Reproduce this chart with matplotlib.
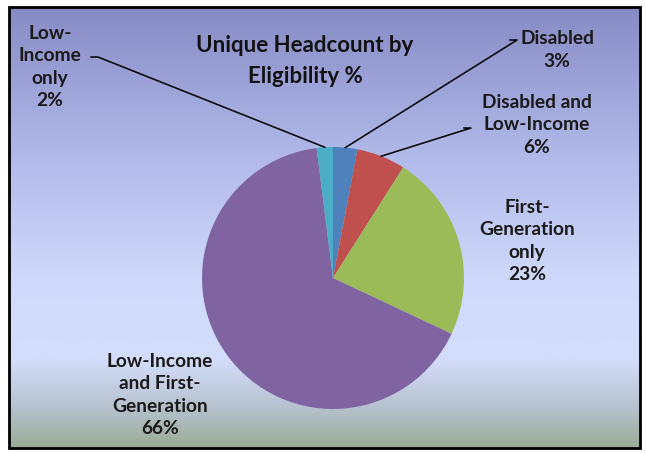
import numpy as np
import matplotlib
matplotlib.use("Agg")
import matplotlib.pyplot as plt
from matplotlib.colors import LinearSegmentedColormap
from matplotlib.patches import Rectangle

# data (percent of unique headcount)
categories = ["Disabled", "Disabled and\nLow-Income", "First-\nGeneration\nonly",
              "Low-Income\nand First-\nGeneration", "Low-\nIncome\nonly"]
shares = [3, 6, 23, 66, 2]
colors = ["#4F81BD", "#C0504D", "#9BBB59", "#8064A2", "#4BACC6"]

W, H = 646, 454
plt.rcParams["font.family"] = ["Lato", "DejaVu Sans"]

fig = plt.figure(figsize=(W / 100, H / 100), dpi=100)
ax = fig.add_axes([0, 0, 1, 1])

def yy(y_img):
    # image rows run downwards, axes y runs up
    return H - y_img

# background gradient of the chart area
bg = LinearSegmentedColormap.from_list("bg", [
    (0.0, "#878bc5"), (0.35, "#b2bbea"), (0.62, "#cfd9fb"),
    (0.80, "#d3ddfb"), (0.90, "#b9c4d2"), (1.0, "#9aab97")])
grad = np.linspace(0, 1, 256).reshape(-1, 1)
left, right, top, bottom = 9, 640, 7, 448
ax.imshow(grad, cmap=bg, aspect="auto", extent=(left, right, yy(bottom), yy(top)),
          zorder=0, interpolation="bicubic")
ax.add_patch(Rectangle((left, yy(bottom)), right - left, bottom - top,
                       fill=False, edgecolor="black", linewidth=2, zorder=5))

cx, cy, r = 333, 278, 131
wedges, _ = ax.pie(shares, colors=colors, startangle=90, counterclock=False,
                   center=(cx, yy(cy)), radius=r,
                   wedgeprops=dict(linewidth=0))

ax.set_xlim(0, W)
ax.set_ylim(0, H)
ax.set_aspect("equal")
ax.axis("off")

labels = [f"{c}\n{s}%" for c, s in zip(categories, shares)]
# text centre positions and leader line start (None = no leader)
text_pos = [(557, 50), (537, 125), (527, 241), (160, 395), (50, 67)]
leader_start = [(517, 40), (471, 128), None, None, (98, 57)]

fs = 13.8
for w, lab, (tx, ty), ls in zip(wedges, labels, text_pos, leader_start):
    ax.text(tx, yy(ty), lab, ha="center", va="center", fontsize=fs,
            fontweight="bold", color="#1a1a1a", linespacing=1.4, zorder=6)
    if ls is not None:
        mid = np.deg2rad((w.theta1 + w.theta2) / 2)
        ex, ey = cx + r * np.cos(mid), yy(cy) + r * np.sin(mid)
        ax.plot([ls[0] - 7, ls[0], ex], [yy(ls[1]), yy(ls[1]), ey],
                color="black", linewidth=1.1, zorder=4)

ax.text(305, yy(61), "Unique Headcount by\nEligibility %", ha="center", va="center",
        fontsize=16, fontweight="bold", color="#111111", linespacing=1.6, zorder=6)

fig.savefig("out.png", dpi=100, facecolor="white")
